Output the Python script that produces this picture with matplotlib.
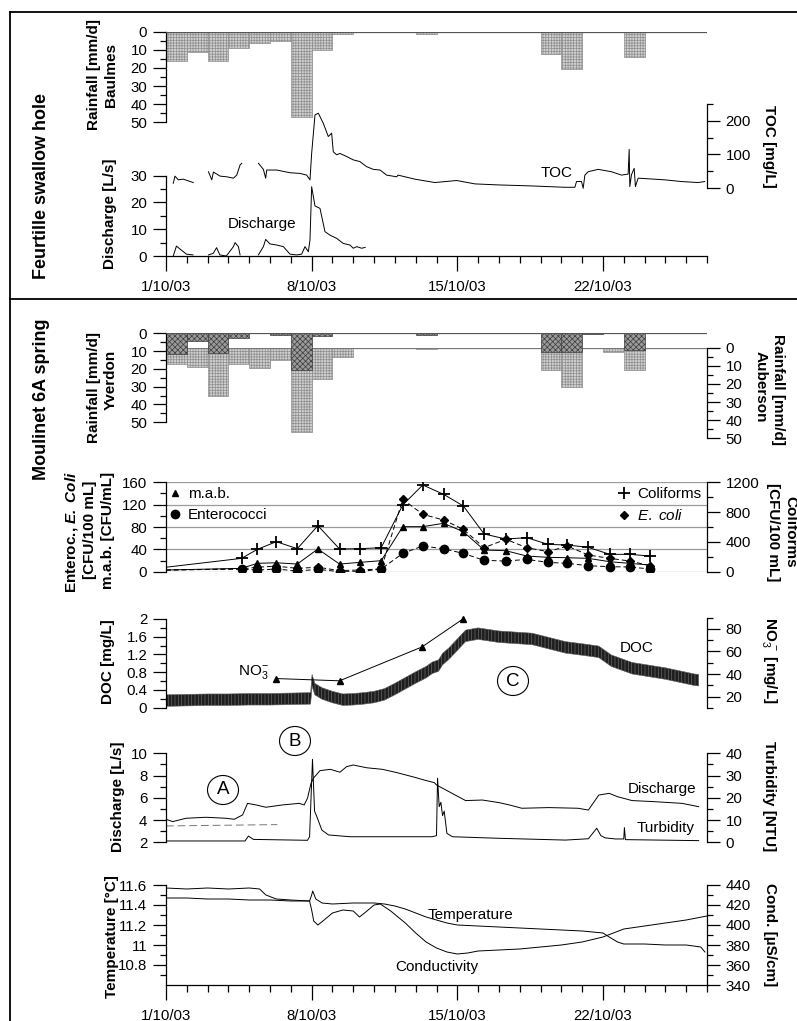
import matplotlib.pyplot as plt
import numpy as np
from matplotlib.lines import Line2D
from matplotlib.patches import Ellipse

plt.rcParams['font.family'] = ['Liberation Sans', 'DejaVu Sans']
plt.rcParams['mathtext.fontset'] = 'custom'
plt.rcParams['mathtext.rm'] = 'Liberation Sans'
plt.rcParams['mathtext.it'] = 'Liberation Sans:italic'
plt.rcParams['mathtext.bf'] = 'Liberation Sans:bold'
plt.rcParams['mathtext.bfit'] = 'Liberation Sans:bold:italic'
plt.rcParams['hatch.linewidth'] = 0.5

nan = np.nan

# ---------------- data (days after 1/10/03 00:00) ----------------
date_ticks = [0, 7, 14, 21]
date_labels = ['1/10/03', '8/10/03', '15/10/03', '22/10/03']
rain_days = np.arange(26)

rain_baulmes = [16, 11, 16, 9.2, 6.4, 5, 47, 10, 1.3, 0, 0, 0, 1.5, 0, 0, 0, 0, 0,
                12.3, 20.8, 0.4, 0, 13.8, 0, 0, 0]
rain_yverdon = [11.8, 4.5, 11.2, 2.4, 0, 1.0, 20.6, 1.5, 0, 0, 0, 0, 0.9, 0, 0, 0, 0, 0,
                10.3, 10.3, 0.3, 0, 9.4, 0, 0, 0]
rain_auberson = [9.2, 10.5, 26.5, 9.2, 11.4, 6.8, 46.7, 17.3, 5.0, 0, 0, 0, 0.7, 0, 0, 0, 0, 0,
                 12.3, 21.5, 0, 2.2, 12.3, 0, 0, 0]

# Feurtille swallow hole
fq_days = [0.35, 0.5, 0.74, 0.98, 1.3, nan, 2.04, 2.27, 2.43, 2.59, 2.9, 3.24, 3.32, 3.48, 3.56, nan,
           4.44, 4.68, 4.79, 5.0, 5.32, 5.64, 5.96, 6.28, 6.52, 6.68, 6.84, 6.92, 7.0, 7.16, 7.4,
           7.64, 7.88, 8.2, 8.52, 8.84, 9.0, 9.17, 9.4, 9.57]
fq = [0, 3.7, 2.2, 0.7, 0.4, nan, 0.4, 1, 3.1, 0.4, 0, 3.5, 5, 3.5, 0.4, nan,
      0.4, 3.5, 6.2, 4.5, 4.1, 3.5, 0.7, 0.4, 0.7, 3.5, 1.6, 6, 25.9, 18.7, 17.8,
      9.1, 7.8, 6.6, 4.7, 4.1, 2.9, 3.5, 2.9, 3.2]
toc_days = [0.35, 0.43, 0.59, 0.83, 1.31, nan, 2.04, 2.2, 2.28, 2.6, 2.92, 3.24, 3.4, 3.56, 3.64, nan,
            4.44, 4.68, 4.79, 4.84, 5.32, 5.96, 6.44, 6.76, 6.92, 7.0, 7.16, 7.32, 7.56, 7.8, 7.96,
            8.04, 8.2, 8.36, 8.68, 9.0, 9.32, 9.64, 9.96, 10.29, 10.6, 11.09, 11.15, 11.96, 12.92,
            13.97, 14.85, 15.97, 17.57, 19.17, 19.65, 19.73, 19.97, 20.05, 20.13, 20.29, 20.77,
            21.41, 21.89, 22.21, 22.26, 22.29, 22.37, 22.5, 22.56, 22.69, 23.97, 24.77, 25.57, 25.89]
toc = [15, 36, 25, 27, 17, nan, 49, 25, 48, 36, 34, 30, 39, 69, 74, nan,
       74, 56, 30, 54, 54, 46, 44, 39, 25, 103, 217, 222, 192, 153, 163,
       108, 99, 103, 94, 84, 79, 64, 56, 54, 39, 34, 39, 27, 17,
       23, 13, 10, 7, 3, 3, 20, 20, 0, 39, 49, 56,
       49, 39, 42, 115, 5, 40, 59, 5, 30, 25, 20, 17, 20]

# Moulinet 6A spring - bacteria
bact_days = [0, 3.63, 4.39, 5.3, 6.31, 7.3, 8.34, 9.3, 10.34, 11.38, 12.34, 13.34, 14.29,
             15.29, 16.33, 17.34, 18.36, 19.29, 20.29, 21.33, 22.29, 23.28]
mab = [3, 6, 15, 16, 13.7, 40.6, 13.7, 16.7, 19.7, 80.6, 80.6, 86.6, 71.6,
       38.8, 37.6, 28, 25.7, 25, 23.9, 17.9, 14.9, 11.9]
enterococci = [3, 4.8, 3, 4.8, 1.2, 4.2, 0, 0, 4.8, 32.8, 46, 41, 32.8,
               20.3, 19.1, 22, 16.7, 14.9, 10.7, 9, 8.4, 4.8]
ecoli = [3, 5, 8, 10, 6, 8, 2, 3, 5, 129.5, 102.7, 92.5, 75.8,
         43, 58, 43, 35.8, 46, 29.9, 23.9, 19.1, 10.7]
coliforms = [60, 179, 300, 403, 309, 618, 305, 309, 322, 896, 1164, 1039, 882,
             506, 439, 457, 367, 358, 327, 233, 233, 210]

# DOC (band of the noisy record: centre and half width) and nitrate
doc_days = [0, 1, 2, 3, 4, 5, 6, 6.95, 7.02, 7.15, 7.5, 8, 8.5, 9, 9.5, 10, 10.5, 11, 11.5, 12,
            12.5, 12.8, 13.1, 13.3, 13.6, 14, 14.4, 15, 16, 17.6, 19.2, 20.2, 20.8, 21.4, 22.4,
            24, 25.4, 25.6]
doc_mid = [0.16, 0.17, 0.18, 0.18, 0.19, 0.19, 0.2, 0.21, 0.62, 0.42, 0.32, 0.24, 0.18, 0.19,
           0.21, 0.24, 0.3, 0.42, 0.55, 0.68, 0.8, 0.9, 0.95, 1.1, 1.22, 1.42, 1.62, 1.67, 1.6,
           1.55, 1.36, 1.3, 1.26, 1.06, 0.89, 0.77, 0.63, 0.62]
doc_half = 0.13
no3_days = [5.3, 8.34, 12.3, 14.29]
no3 = [36, 34, 64, 89]

# Discharge and turbidity
q_days = [0, 0.32, 0.96, 1.92, 2.88, 3.28, 3.68, 3.92, 4.32, 4.8, 5.6, 6.4, 6.64, 6.8, 6.97,
          7.08, 7.4, 7.9, 8.36, 8.68, 9.0, 9.64, 10.4, 11.1, 11.96, 12.4, 12.9, 13.0, 13.6,
          14.4, 15.2, 16.0, 16.5, 17.1, 18.4, 19.8, 20.3, 20.8, 21.3, 21.7, 22.4, 23.4, 24.8, 25.6]
q = [4.07, 3.86, 4.16, 4.25, 4.16, 4.07, 4.46, 5.5, 5.36, 5.15, 5.36, 5.5, 5.36, 5.96, 7.3,
     7.75, 8.44, 8.56, 8.3, 8.8, 8.95, 8.7, 8.56, 8.26, 7.84, 7.6, 7.36, 7.15, 6.55,
     5.75, 5.8, 5.57, 5.36, 5.06, 5.12, 5.06, 4.9, 6.25, 6.4, 6.1, 5.75, 5.66, 5.5, 5.2]
q_ref_days = [0, 5.35]
q_ref = [3.47, 3.59]
turb_days = [0, 3.8, 3.96, 4.2, 6.8, 6.9, 7.04, 7.14, 7.25, 7.49, 7.81, 8.85, 11.09, 12.8,
             13.0, 13.05, 13.13, 13.21, 13.29, 13.37, 13.5, 13.77, 16.0, 19.2, 20.3, 20.7,
             20.9, 21.1, 21.6, 22.0, 22.03, 22.08, 25.6]
turb = [0.6, 0.6, 2.8, 1.3, 0.9, 2.5, 37.3, 14, 11.5, 5.5, 3.3, 2.5, 2.5, 2.5,
        3, 28.8, 16, 18, 12, 14, 4, 2.5, 1.8, 1.0, 1.6, 6.3,
        3, 2, 1.5, 1.5, 6.6, 1.2, 0.75]

# Temperature and conductivity
temp_days = [0, 1, 2, 3, 4, 5, 6, 6.9, 7.0, 7.05, 7.2, 7.5, 8, 9, 10, 10.5, 11, 11.5, 12, 12.5,
             13, 13.5, 14, 15, 16, 17, 18, 19, 20, 20.5, 21, 21.3, 21.7, 22, 23, 24, 25, 25.7, 25.9]
temp = [11.47, 11.47, 11.46, 11.46, 11.45, 11.45, 11.44, 11.44, 11.5, 11.54, 11.46, 11.42,
        11.41, 11.42, 11.42, 11.41, 11.39, 11.36, 11.32, 11.28, 11.25, 11.22, 11.2, 11.19,
        11.18, 11.17, 11.16, 11.15, 11.14, 11.13, 11.12, 11.08, 11.03, 11.01, 11.01, 11.0,
        11.0, 10.98, 10.93]
cond_days = [0, 1, 2, 3, 4, 4.5, 4.8, 5.3, 6, 6.9, 7.0, 7.1, 7.3, 7.6, 8, 8.5, 9, 9.3, 9.6, 10,
             10.3, 10.8, 11.5, 12, 12.5, 13, 13.5, 14, 14.5, 15, 16, 17, 18, 19, 20, 21, 21.5,
             22, 23, 24, 25, 26]
cond = [437, 436, 437, 436, 437, 436, 430, 426, 425, 424, 415, 404, 400, 405, 412, 415, 414,
        408, 413, 420, 421, 414, 402, 392, 383, 377, 373, 371, 372, 374, 375, 376, 378, 380,
        383, 388, 392, 396, 399, 402, 405, 409]

# ---------------- layout helpers ----------------
W, H = 797, 1021
fig = plt.figure(figsize=(W / 100, H / 100), dpi=100)
X0, X1 = 166, 707
LW = 0.7
FS = 10.8      # tick labels
FT = 11        # in-plot text and axis titles


def box(top, bottom):
    ax = fig.add_axes([X0 / W, 1 - bottom / H, (X1 - X0) / W, (bottom - top) / H])
    ax.patch.set_alpha(0)
    for s in ax.spines.values():
        s.set_visible(False)
    ax.set_xticks([])
    ax.set_yticks([])
    return ax


def yaxis(ax, side, lo, hi, major, minor, labels=None):
    sp = ax.spines[side]
    sp.set_visible(True)
    sp.set_bounds(lo, hi)
    sp.set_linewidth(0.9)
    ax.yaxis.set_ticks_position(side)
    ax.set_yticks(major, labels=labels if labels else [f'{v:g}' for v in major])
    ax.set_yticks(minor, minor=True)
    ax.tick_params(axis='y', which='major', length=9.5, width=0.9, pad=4, labelsize=FS)
    ax.tick_params(axis='y', which='minor', length=4, width=0.9)


def taxis(ax):
    sp = ax.spines['bottom']
    sp.set_visible(True)
    sp.set_bounds(0, 26)
    sp.set_linewidth(0.9)
    ax.set_xticks(date_ticks, labels=date_labels)
    ax.set_xticks(range(27), minor=True)
    ax.tick_params(axis='x', which='major', length=11, width=0.9, pad=6, labelsize=FS)
    ax.tick_params(axis='x', which='minor', length=5, width=0.9)


def ftext(x, y, s, rot=0, **kw):
    fig.text(x / W, 1 - y / H, s, rotation=rot, ha='center', va='center', **kw)


def title(x, y, s, rot=90, size=FT):
    ftext(x, y, s, rot, fontsize=size, fontweight='bold')


def circ(x, y, letter):
    fig.add_artist(Ellipse((x / W, 1 - y / H), 31 / W, 29 / H, transform=fig.transFigure,
                           fill=False, lw=0.8, color='k'))
    ftext(x, y, letter, fontsize=13.5)


light = dict(color='#d0d0d0', edgecolor='#8e8e8e', hatch='++++++', lw=0.5)
dark = dict(color='#9a9a9a', edgecolor='#3c3c3c', hatch='xxxxxx', lw=0.5)

# ---------------- Feurtille swallow hole ----------------
ax = box(31.7, 122.3)
ax.bar(rain_days, rain_baulmes, width=1, align='edge', zorder=2, **light)
ax.axhline(0, color='#555', lw=0.9, zorder=3)
yaxis(ax, 'left', 0, 50, range(0, 51, 10), range(5, 50, 10))
ax.set_ylim(50, 0)
ax.set_xlim(0, 26)

axq = box(100, 256)
axq.plot(fq_days, fq, color='k', lw=LW)
yaxis(axq, 'left', 0, 30, [0, 10, 20, 30], [5, 15, 25])
taxis(axq)
axq.set_ylim(0, 58.3)
axq.set_xlim(0, 26)

axt = box(100, 188.3)
axt.plot(toc_days, toc, color='k', lw=LW, clip_on=False)
yaxis(axt, 'right', 0, 250, [0, 100, 200], [50, 150, 250])
axt.set_ylim(0, 261)
axt.set_xlim(0, 26)

ftext(262, 224, 'Discharge', fontsize=FT)
ftext(557, 173, 'TOC', fontsize=FT)
title(42, 186, 'Feurtille swallow hole', size=13)
title(94, 75, 'Rainfall [mm/d]')
title(111, 75, 'Baulmes')
title(110, 214, 'Discharge [L/s]')
title(769, 146, 'TOC [mg/L]', 270)

# ---------------- Moulinet 6A spring: rainfall ----------------
axa = box(347.7, 438.3)
axa.bar(rain_days, rain_auberson, width=1, align='edge', zorder=2, **light)
axa.axhline(0, color='#777', lw=0.9, zorder=3)
yaxis(axa, 'right', 0, 50, range(0, 51, 10), range(5, 50, 10))
axa.set_ylim(50, 0)
axa.set_xlim(0, 26)

axy = box(333.3, 422.3)
axy.bar(rain_days, rain_yverdon, width=1, align='edge', zorder=2, **dark)
axy.axhline(0, color='#555', lw=0.9, zorder=3)
yaxis(axy, 'left', 0, 50, range(0, 51, 10), range(5, 50, 10))
axy.set_ylim(50, 0)
axy.set_xlim(0, 26)

title(42, 399, 'Moulinet 6A spring', size=13)
title(94, 387, 'Rainfall [mm/d]')
title(111, 380, 'Yverdon')
title(778, 389, 'Rainfall [mm/d]', 270)
title(761, 387, 'Auberson', 270)

# ---------------- bacteria ----------------
axb = box(482.3, 571.7)
for g in [0, 40, 80, 120, 160]:
    axb.axhline(g, color='#9a9a9a', lw=0.9, zorder=0)
axb.plot(bact_days, mab, color='k', lw=LW, marker='^', ms=5, markevery=slice(1, None))
axb.plot(bact_days, enterococci, color='k', lw=LW, ls='--', dashes=(5, 3),
         marker='o', ms=6, markevery=slice(1, None))
axb.plot(bact_days, ecoli, color='k', lw=LW, ls='--', dashes=(5, 3),
         marker='D', ms=4.2, markevery=slice(1, None))
yaxis(axb, 'left', 0, 160, [0, 40, 80, 120, 160], [20, 60, 100, 140])
axb.set_ylim(0, 160)
axb.set_xlim(0, 26)

axc = box(482.3, 571.7)
axc.plot(bact_days, coliforms, color='k', lw=LW, marker='+', ms=8, mew=1.3,
         markevery=slice(1, None))
yaxis(axc, 'right', 0, 1200, [0, 400, 800, 1200], [200, 600, 1000])
axc.set_ylim(0, 1200)
axc.set_xlim(0, 26)

h_left = [Line2D([], [], color='k', ls='none', marker='^', ms=5),
          Line2D([], [], color='k', ls='none', marker='o', ms=6)]
axb.legend(h_left, ['m.a.b.', 'Enterococci'], loc='upper left', bbox_to_anchor=(-0.012, 1.05),
           frameon=False, fontsize=FT, handlelength=0.8, handletextpad=0.45,
           labelspacing=0.45, borderaxespad=0.2)
h_right = [Line2D([], [], color='k', ls='none', marker='+', ms=8, mew=1.3),
           Line2D([], [], color='k', ls='none', marker='D', ms=4.2)]
axc.legend(h_right, ['Coliforms', r'$\mathit{E.\ coli}$'], loc='upper left',
           bbox_to_anchor=(0.818, 1.05), frameon=False, fontsize=FT, handlelength=0.8,
           handletextpad=0.45, labelspacing=0.45, borderaxespad=0.2)

title(72, 532, r'Enteroc., $\mathbfit{E.\ Coli}$')
title(90, 530, '[CFU/100 mL]')
title(108, 530, 'm.a.b. [CFU/mL]')
title(790, 532, 'Coliforms', 270)
title(773, 532, '[CFU/100 mL]', 270)

# ---------------- DOC / nitrate ----------------
axd = box(619, 707.7)
lo = np.array(doc_mid) - doc_half
hi = np.array(doc_mid) + doc_half
axd.fill_between(doc_days, lo, hi, color='#1e1e1e', lw=0.4, edgecolor='#666',
                 hatch='|||||')
yaxis(axd, 'left', 0, 2, [0, 0.4, 0.8, 1.2, 1.6, 2], [0.2, 0.6, 1.0, 1.4, 1.8],
      labels=['0', '0.4', '0.8', '1.2', '1.6', '2'])
axd.set_ylim(0, 2)
axd.set_xlim(0, 26)

axn = box(617.6, 707.9)
axn.plot(no3_days, no3, color='k', lw=LW, marker='^', ms=5, clip_on=False)
yaxis(axn, 'right', 10, 90, [20, 40, 60, 80], [10, 30, 50, 70, 90])
axn.set_ylim(10, 90)
axn.set_xlim(0, 26)

ftext(253, 672, r'NO$_3^{-}$', fontsize=FT)
ftext(637, 648, 'DOC', fontsize=FT)
title(108, 662, 'DOC [mg/L]')
title(769, 660, r'NO$_3^{\,-}$ [mg/L]', 270)

# ---------------- discharge / turbidity ----------------
axq2 = box(753.3, 842.3)
axq2.plot(q_days, q, color='k', lw=LW)
axq2.plot(q_ref_days, q_ref, color='#777', lw=LW, ls='--', dashes=(8, 4))
yaxis(axq2, 'left', 2, 10, [2, 4, 6, 8, 10], [3, 5, 7, 9])
axq2.set_ylim(2, 10)
axq2.set_xlim(0, 26)

axu = box(753.3, 842.3)
axu.plot(turb_days, turb, color='k', lw=LW)
yaxis(axu, 'right', 0, 40, [0, 10, 20, 30, 40], [5, 15, 25, 35])
axu.set_ylim(0, 40)
axu.set_xlim(0, 26)

ftext(662, 789, 'Discharge', fontsize=FT)
ftext(666, 828, 'Turbidity', fontsize=FT)
title(118, 797, 'Discharge [L/s]')
title(769, 796, 'Turbidity [NTU]', 270)

# ---------------- temperature / conductivity ----------------
axT = box(885, 985)
axT.plot(temp_days, temp, color='k', lw=LW)
yaxis(axT, 'left', 10.6, 11.6, [10.8, 11.0, 11.2, 11.4, 11.6], [10.7, 10.9, 11.1, 11.3, 11.5],
      labels=['10.8', '11', '11.2', '11.4', '11.6'])
taxis(axT)
axT.set_ylim(10.6, 11.6)
axT.set_xlim(0, 26)

axk = box(885, 985)
axk.plot(cond_days, cond, color='k', lw=LW)
yaxis(axk, 'right', 340, 440, [340, 360, 380, 400, 420, 440], [350, 370, 390, 410, 430])
axk.set_ylim(340, 440)
axk.set_xlim(0, 26)

ftext(470, 915, 'Temperature', fontsize=FT)
ftext(437, 967, 'Conductivity', fontsize=FT)
title(112, 937, 'Temperature [°C]')
title(770, 935, 'Cond. [µS/cm]', 270)

circ(223, 790, 'A')
circ(295, 741, 'B')
circ(513, 681, 'C')

# frame lines
for xs, ys in [([10, 797], [12, 12]), ([10, 10], [12, 1021]), ([10, 797], [299, 299])]:
    fig.add_artist(Line2D([x / W for x in xs], [1 - y / H for y in ys], color='k', lw=1.3,
                          transform=fig.transFigure))

fig.savefig('out.png', dpi=100)
